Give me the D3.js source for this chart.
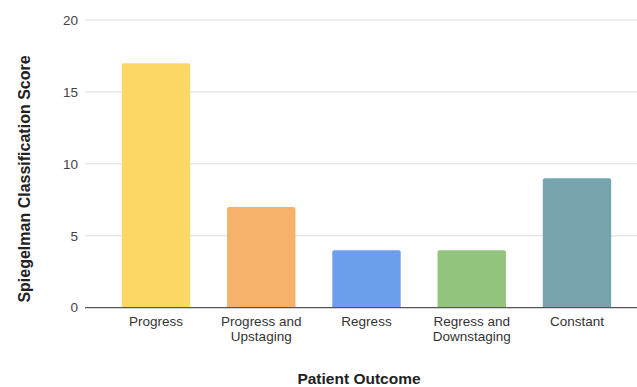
<!DOCTYPE html>
<html><head><meta charset="utf-8">
<script src="https://cdn.jsdelivr.net/npm/d3@7"></script>
<style>body{margin:0;background:#fff}svg{display:block;font-family:"Liberation Sans",Arial,sans-serif}</style>
</head><body>
<svg id="c" width="637" height="387"></svg>
<script>
const categories = ["Progress", "Progress and|Upstaging", "Regress", "Regress and|Downstaging", "Constant"];
const values = [17, 7, 4, 4, 9];
const colors = ["#fdd766", "#f6b26b", "#6d9eeb", "#93c47d", "#76a5af"];
const yTicks = [0, 5, 10, 15, 20];
const xTitle = "Patient Outcome";
const yTitle = "Spiegelman Classification Score";

const svg = d3.select("#c");
const x = d3.scaleBand().domain(categories).range([103.4, 629.6]).paddingInner(0.35).paddingOuter(0.175);
const y = d3.scaleLinear().domain([0, 20]).range([307.7, 20]);

// gridlines
svg.append("g").selectAll("line").data(yTicks.filter(d => d > 0)).join("line")
  .attr("x1", 85).attr("x2", 637)
  .attr("y1", d => y(d)).attr("y2", d => y(d))
  .attr("stroke", "#dcdcdc").attr("stroke-width", 1);

// y tick labels
svg.append("g").selectAll("text").data(yTicks).join("text")
  .attr("x", 78).attr("y", d => y(d)).attr("dy", "0.35em")
  .attr("text-anchor", "end").attr("font-size", 13.5).attr("fill", "#444")
  .text(d => d);

// bars with rounded top corners
const r = 2;
svg.append("g").selectAll("path").data(values).join("path")
  .attr("fill", (d, i) => colors[i])
  .attr("d", (d, i) => {
    const x0 = x(categories[i]), w = x.bandwidth(), y0 = y(d), yb = y(0);
    return `M${x0},${yb}V${y0 + r}Q${x0},${y0} ${x0 + r},${y0}H${x0 + w - r}Q${x0 + w},${y0} ${x0 + w},${y0 + r}V${yb}Z`;
  });

// baseline
svg.append("line").attr("x1", 85).attr("x2", 637).attr("y1", y(0)).attr("y2", y(0))
  .attr("stroke", "#555").attr("stroke-width", 1.2);

// x category labels
const xl = svg.append("g").selectAll("text").data(categories).join("text")
  .attr("x", d => x(d) + x.bandwidth() / 2).attr("y", 326)
  .attr("text-anchor", "middle").attr("font-size", 13.5).attr("fill", "#333");
xl.each(function(d) {
  const parts = d.split("|");
  d3.select(this).selectAll("tspan").data(parts).join("tspan")
    .attr("x", x(d) + x.bandwidth() / 2).attr("dy", (p, j) => j === 0 ? 0 : 15).text(p => p);
});

// axis titles
svg.append("text").attr("x", 359).attr("y", 384).attr("text-anchor", "middle")
  .attr("font-size", 15.5).attr("font-weight", "bold").attr("fill", "#222").text(xTitle);
svg.append("text").attr("transform", "translate(30,179) rotate(-90)").attr("text-anchor", "middle")
  .attr("font-size", 16).attr("font-weight", "bold").attr("fill", "#222").text(yTitle);
</script>
</body></html>
